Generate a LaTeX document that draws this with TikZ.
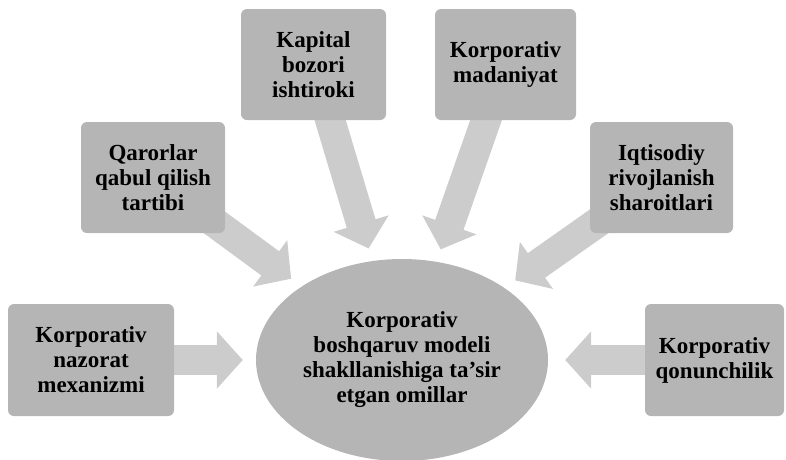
\documentclass[tikz,border=0pt]{standalone}
\usepackage{fontspec}
\setmainfont{Liberation Serif}
\usepackage{tikz}
\usetikzlibrary{positioning,arrows.meta,shapes.geometric,backgrounds}
\tikzset{factor/.style={rectangle,rounded corners=6pt,fill=gray!58,inner sep=0pt,align=center,
        font=\fontsize{23}{25}\selectfont\bfseries},
    hub/.style={ellipse,fill=gray!58,inner sep=0pt,minimum width=292pt,minimum height=202pt,align=center,
        font=\fontsize{23}{25}\selectfont\bfseries},
    push/.style={line width=30pt,draw=gray!40,-{Triangle[width=56pt,length=26pt]},
        shorten >=13pt,shorten <=-20pt}}

\begin{document}
\begin{tikzpicture}[x=1pt,y=-1pt]
    \useasboundingbox (0,0) rectangle (786,459);
    \node[hub](markaz) at (402,360){Korporativ\\ boshqaruv modeli\\ shakllanishiga ta’sir\\ etgan omillar};

    \node[factor,minimum width=145pt,minimum height=111pt](kapital) at (313.5,64.5){Kapital\\ bozori\\ ishtiroki};
    \node[factor,minimum width=141pt,minimum height=111pt](madaniyat) at (505.5,64.5){Korporativ\\ madaniyat};
    \node[factor,minimum width=144pt,minimum height=111pt](qarorlar) at (153,177.5){Qarorlar\\ qabul qilish\\ tartibi};
    \node[factor,minimum width=143pt,minimum height=111pt](iqtisodiy) at (661.5,177.5){Iqtisodiy\\ rivojlanish\\ sharoitlari};
    \node[factor,minimum width=166pt,minimum height=112pt](nazorat) at (91,360){Korporativ\\ nazorat\\ mexanizmi};
    \node[factor,minimum width=139pt,minimum height=112pt](qonun) at (714.5,360){Korporativ\\ qonunchilik};

    \begin{scope}[on background layer]
        \draw[push] (kapital) -- (markaz);
        \draw[push] (madaniyat) -- (markaz);
        \draw[push] (qarorlar) -- (markaz);
        \draw[push] (iqtisodiy) -- (markaz);
        \draw[push] (nazorat) -- (markaz);
        \draw[push,shorten >=17pt] (qonun) -- (markaz);
    \end{scope}
\end{tikzpicture}
\end{document}
